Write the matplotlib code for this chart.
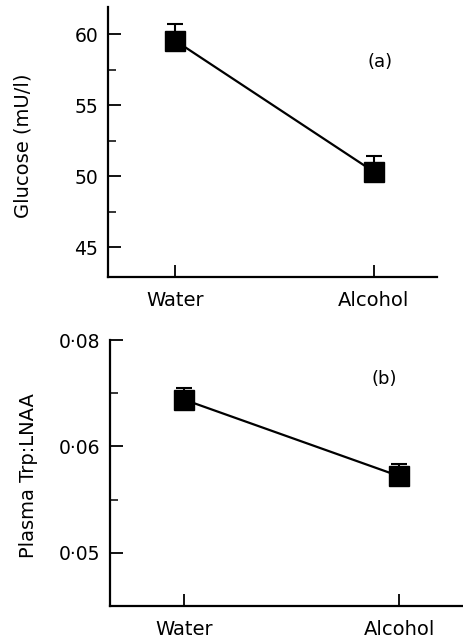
import numpy as np
import matplotlib
matplotlib.use("Agg")
import matplotlib.pyplot as plt
from matplotlib.ticker import FixedLocator, FixedFormatter

# Data
groups = ["Water", "Alcohol"]
glucose = [59.54, 50.30]
glucose_err = [1.17, 1.12]
trp_ratio = [0.0688, 0.0572]
trp_err = [0.0021, 0.0011]

glu_ticks = [45, 50, 55, 60]
glu_minor = [47.5, 52.5, 57.5]
trp_ticks = [0.05, 0.06, 0.08]
trp_tick_labels = ["0·05", "0·06", "0·08"]
trp_minor = [0.055, 0.07]

plt.rcParams['font.family'] = ['DejaVu Sans']

fig = plt.figure(figsize=(4.64, 6.38), dpi=100)
ax1 = fig.add_axes([108/464, 1-277/638, (437-108)/464, (277-7)/638])
ax2 = fig.add_axes([110/464, 1-606/638, (464-110)/464, (606-340)/638])

x = np.arange(len(groups))

def style(ax):
    ax.spines['top'].set_visible(False)
    ax.spines['right'].set_visible(False)
    for s in ['left', 'bottom']:
        ax.spines[s].set_linewidth(1.6)
    ax.tick_params(axis='y', which='major', direction='in', length=9, width=1.3,
                   pad=7, labelsize=13.5)
    ax.tick_params(axis='y', which='minor', direction='in', length=6, width=1.1)
    ax.tick_params(axis='x', which='major', direction='in', length=9, width=1.3,
                   pad=10, labelsize=14)
    ax.set_xticks(x)
    ax.set_xticklabels(groups)

# Panel (a)
ax1.errorbar(x, glucose, yerr=[[0, 0], glucose_err], color='black', lw=1.6,
             marker='s', markersize=14.5, capsize=6, capthick=1.5, elinewidth=1.5)
ax1.set_xlim(-0.337, 1.317)
ax1.set_ylim(42.9, 61.9)
ax1.yaxis.set_major_locator(FixedLocator(glu_ticks))
ax1.yaxis.set_minor_locator(FixedLocator(glu_minor))
style(ax1)
ax1.set_ylabel("Glucose (mU/l)", fontsize=14)
ax1.yaxis.set_label_coords(-0.228, 0.485)
ax1.text(0.827, 0.796, "(a)", transform=ax1.transAxes, fontsize=13,
         ha='center', va='center')

# Panel (b) - axis as drawn: 0.06-0.08 compressed to same span as 0.05-0.06
def fwd(v):
    v = np.asarray(v, dtype=float)
    return np.where(v <= 0.06, v, 0.06 + (v - 0.06) / 2)

def inv(u):
    u = np.asarray(u, dtype=float)
    return np.where(u <= 0.06, u, 0.06 + 2 * (u - 0.06))

ax2.set_yscale('function', functions=(fwd, inv))
ax2.errorbar(x, trp_ratio, yerr=[[0, 0], trp_err], color='black', lw=1.6,
             marker='s', markersize=14.5, capsize=6, capthick=1.5, elinewidth=1.5)
ax2.set_xlim(-0.343, 1.30)
ax2.set_ylim(0.045, 0.08)
ax2.yaxis.set_major_locator(FixedLocator(trp_ticks))
ax2.yaxis.set_major_formatter(FixedFormatter(trp_tick_labels))
ax2.yaxis.set_minor_locator(FixedLocator(trp_minor))
ax2.yaxis.set_minor_formatter(FixedFormatter([]))
style(ax2)
ax2.set_ylabel("Plasma Trp:LNAA", fontsize=14)
ax2.yaxis.set_label_coords(-0.203, 0.489)
ax2.text(0.774, 0.852, "(b)", transform=ax2.transAxes, fontsize=13,
         ha='center', va='center')

fig.savefig("out.png", dpi=100)
